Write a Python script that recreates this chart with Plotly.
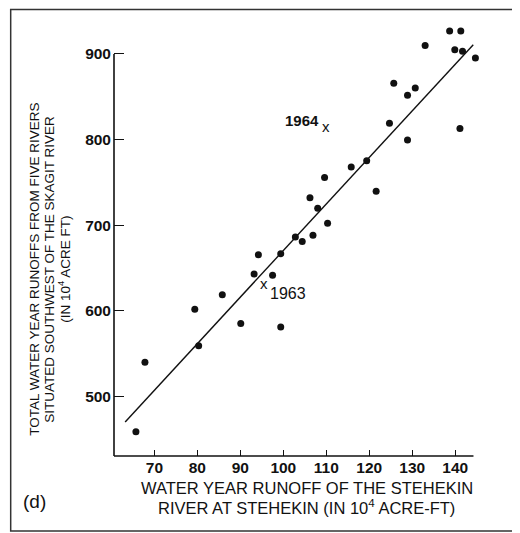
import plotly.graph_objects as go

# Stehekin runoff (10^4 acre-ft) vs total runoff of five rivers (10^4 acre-ft)
stehekin = [65.7, 67.8, 79.4, 80.3, 85.8, 90.1, 93.2, 94.2, 97.5, 99.4, 99.4,
            102.8, 104.4, 106.2, 106.9, 108.0, 109.6, 110.3, 115.8, 119.4, 121.6,
            124.7, 125.7, 128.9, 128.9, 130.7, 133.0, 138.7, 141.3, 139.9, 141.7,
            141.1, 144.7]
five_rivers = [458.5, 539.9, 601.7, 559.0, 618.8, 585.0, 642.8, 665.5, 641.6,
               666.7, 580.9, 686.2, 681.0, 732.1, 688.2, 719.7, 755.6, 702.2,
               768.0, 775.2, 739.7, 819.0, 865.7, 851.7, 799.5, 860.1, 910.0,
               926.7, 926.7, 904.8, 903.2, 813.0, 895.2]

# fitted regression line end points
fit_x = [63.2, 144.2]
fit_y = [470.1, 910.8]

# labelled years (marked with "x")
year_labels = ["1964", "1963"]
year_x = [109.9, 95.5]
year_y = [815.4, 632.3]

x_ticks = [70, 80, 90, 100, 110, 120, 130, 140]
y_ticks = [500, 600, 700, 800, 900]

# drawn axis extents and the (slightly larger) plotting window
x_axis_span = [60.6, 144.25]
y_axis_span = [430.3, 900]
x_range = [60.6, 146.0]
y_range = [430.3, 935]

x_title_lines = ["WATER YEAR RUNOFF OF THE STEHEKIN",
                 "RIVER AT STEHEKIN (IN 10<sup>4</sup> ACRE-FT)"]
y_title_lines = ["TOTAL WATER YEAR RUNOFFS FROM FIVE RIVERS",
                 "SITUATED SOUTHWEST OF THE SKAGIT RIVER",
                 "(IN 10<sup>4</sup> ACRE FT)"]

FONT = "Liberation Sans, Arial, sans-serif"
INK = "#111111"

fig = go.Figure()
fig.add_trace(go.Scatter(x=fit_x, y=fit_y, mode="lines",
                         line=dict(color=INK, width=1.4),
                         showlegend=False, hoverinfo="skip"))
fig.add_trace(go.Scatter(x=stehekin, y=five_rivers, mode="markers",
                         marker=dict(color=INK, size=7, symbol="circle"),
                         showlegend=False))

fig.update_xaxes(range=x_range, tickvals=x_ticks, ticks="inside", ticklen=6,
                 tickwidth=1.4, tickcolor=INK, showline=False,
                 showgrid=False, zeroline=False,
                 tickfont=dict(family=FONT, size=15.5, color=INK, weight="bold"))
fig.update_yaxes(range=y_range, tickvals=y_ticks, ticks="inside", ticklen=10,
                 tickwidth=1.4, tickcolor=INK, showline=False,
                 showgrid=False, zeroline=False, ticklabelstandoff=2,
                 tickfont=dict(family=FONT, size=15.5, color=INK, weight="bold"))

# axis lines only over the labelled span (paper fractions derived from spans)
x_end = (x_axis_span[1] - x_range[0]) / (x_range[1] - x_range[0])
y_end = (y_axis_span[1] - y_range[0]) / (y_range[1] - y_range[0])
fig.add_shape(type="line", xref="paper", yref="paper", x0=0, x1=x_end, y0=0, y1=0,
              line=dict(color=INK, width=1.6))
fig.add_shape(type="line", xref="paper", yref="paper", x0=0, x1=0, y0=0, y1=y_end,
              line=dict(color=INK, width=1.6))

# year markers with labels
for lab, xv, yv in zip(year_labels, year_x, year_y):
    fig.add_annotation(x=xv, y=yv, text="x", showarrow=False, xanchor="center",
                       yanchor="middle", font=dict(family=FONT, size=15, color=INK))
fig.add_annotation(x=year_x[0], y=year_y[0], text="<b>" + year_labels[0] + "</b>",
                   showarrow=False, xanchor="right", yanchor="middle",
                   xshift=-5, yshift=6, font=dict(family=FONT, size=15, color=INK))
fig.add_annotation(x=year_x[1], y=year_y[1], text=year_labels[1],
                   showarrow=False, xanchor="left", yanchor="middle",
                   xshift=4, yshift=-10, font=dict(family=FONT, size=16, color=INK))

# axis titles, one annotation per line
for line, yp in zip(x_title_lines, [-0.0733, -0.1173]):
    fig.add_annotation(xref="paper", yref="paper", x=0.5254, y=yp, text=line,
                       showarrow=False, xanchor="center", yanchor="middle",
                       font=dict(family=FONT, size=16.5, color=INK))
for line, xp in zip(y_title_lines, [-0.2162, -0.1754, -0.1346]):
    fig.add_annotation(xref="paper", yref="paper", x=xp, y=0.4325, text=line,
                       showarrow=False, textangle=-90, xanchor="center",
                       yanchor="middle", font=dict(family=FONT, size=13.5, color=INK))
fig.add_annotation(xref="paper", yref="paper", x=-0.2176, y=-0.1064,
                   text="(d)", showarrow=False, xanchor="center", yanchor="middle",
                   font=dict(family=FONT, size=19, color=INK))

# panel frame
fig.add_shape(type="rect", xref="paper", yref="paper", x0=-0.2815, x1=1.3,
              y0=-0.1734, y1=1.0338, line=dict(color="#333333", width=1.5))

fig.update_layout(width=512, height=525, plot_bgcolor="white", paper_bgcolor="white",
                  margin=dict(l=105.5, r=38.8, t=15.6, b=77))

fig.write_html("out.html")
